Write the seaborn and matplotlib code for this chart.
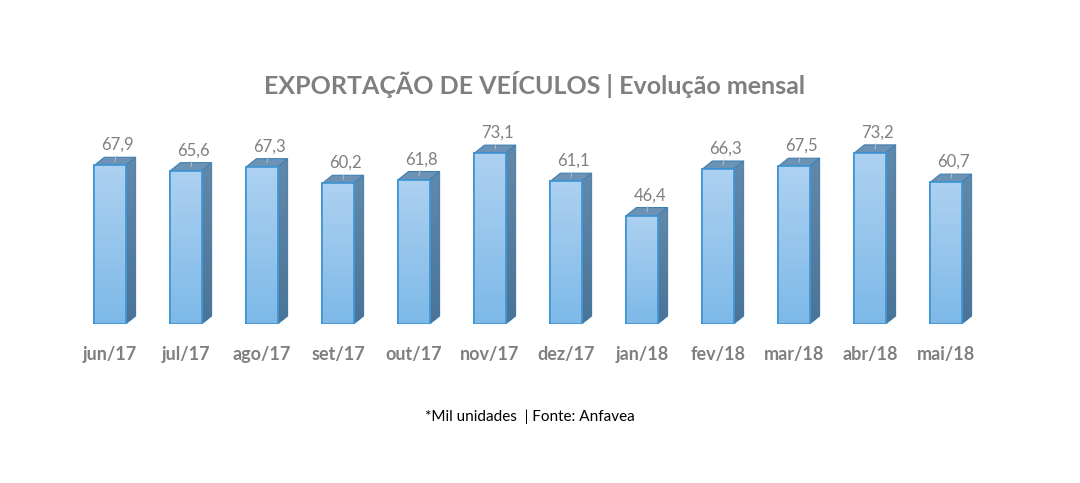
from matplotlib import pyplot as plt
from matplotlib.patches import Polygon
import matplotlib.colors as mcolors
import numpy as np
import seaborn as sns

months = ["jun/17", "jul/17", "ago/17", "set/17", "out/17", "nov/17",
          "dez/17", "jan/18", "fev/18", "mar/18", "abr/18", "mai/18"]
exports = [67.9, 65.6, 67.3, 60.2, 61.8, 73.1, 61.1, 46.4, 66.3, 67.5, 73.2, 60.7]

sns.set_style("white")
plt.rcParams['font.family'] = ['Lato', 'DejaVu Sans']

GRAY = "#7f7f7f"

fig = plt.figure(figsize=(10.8, 4.83), dpi=100)
ax = fig.add_axes([72 / 1080, 159 / 483, 912 / 1080, 187 / 483])

sns.barplot(x=months, y=exports, color="#9cc8ee", width=0.41, ax=ax,
            edgecolor="#3f94d2", linewidth=1.2, zorder=3)

ax.set_xlim(-0.5, 11.5)
ax.set_ylim(0, 80)

# depth of the fake 3d boxes (data units)
dx = 10 / 76
dy = 8 / (187 / 80)

front_cmap = mcolors.LinearSegmentedColormap.from_list("front", ["#7db9e8", "#add1f1"])
side_cmap = mcolors.LinearSegmentedColormap.from_list("side", ["#4a7396", "#6189ac"])
grad = np.linspace(0, 1, 256).reshape(-1, 1)

for bar, val in zip(ax.patches, exports):
    x0, w, h = bar.get_x(), bar.get_width(), bar.get_height()
    # front gradient
    im = ax.imshow(grad, extent=(x0, x0 + w, 0, h), origin="lower", aspect="auto",
                   cmap=front_cmap, zorder=3.5)
    im.set_clip_path(bar)
    # side face
    side = Polygon([(x0 + w, 0), (x0 + w + dx, dy), (x0 + w + dx, h + dy), (x0 + w, h)],
                   closed=True, facecolor="#557d9f", edgecolor="#3f7fb0", lw=0.8, zorder=2.5)
    ax.add_patch(side)
    im2 = ax.imshow(grad, extent=(x0 + w, x0 + w + dx, 0, h + dy), origin="lower",
                    aspect="auto", cmap=side_cmap, zorder=2.6)
    im2.set_clip_path(side)
    # top face
    top = Polygon([(x0, h), (x0 + dx, h + dy), (x0 + w + dx, h + dy), (x0 + w, h)],
                  closed=True, facecolor="#6c93b5", edgecolor="#3f7fb0", lw=0.8, zorder=2.7)
    ax.add_patch(top)
    # front edge again, over the gradient
    ax.add_patch(Polygon([(x0, 0), (x0 + w, 0), (x0 + w, h), (x0, h)],
                         closed=True, fill=False, edgecolor="#3f94d2", lw=1.2, zorder=4))
    # label with short leader line
    cx = x0 + w / 2 + dx / 2
    ax.annotate(f"{val:.1f}".replace(".", ","), xy=(cx, h + dy * 0.5),
                xytext=(2, 6), textcoords="offset points", ha="center", va="bottom",
                fontsize=12, color=GRAY,
                arrowprops=dict(arrowstyle="-", color="#bfbfbf", lw=0.7,
                                shrinkA=0, shrinkB=0), annotation_clip=False, zorder=5)

ax.set_xlim(-0.5, 11.5)
ax.set_ylim(0, 80)
ax.set_yticks([])
ax.tick_params(axis="x", length=0, pad=16)
for item in ax.get_xticklabels():
    item.set_fontweight("bold")
    item.set_color(GRAY)
    item.set_fontsize(13)
sns.despine(ax=ax, left=True, bottom=True)
ax.patch.set_alpha(0)

fig.text(535 / 1080, 1 - 84 / 483, "EXPORTAÇÃO DE VEÍCULOS | Evolução mensal",
         ha="center", va="center", fontsize=18, fontweight="bold", color=GRAY)
fig.text(530 / 1080, 1 - 417 / 483, "*Mil unidades  | Fonte: Anfavea",
         ha="center", va="center", fontsize=11, color="black")

plt.savefig("out.png", dpi=100)
plt.close()
